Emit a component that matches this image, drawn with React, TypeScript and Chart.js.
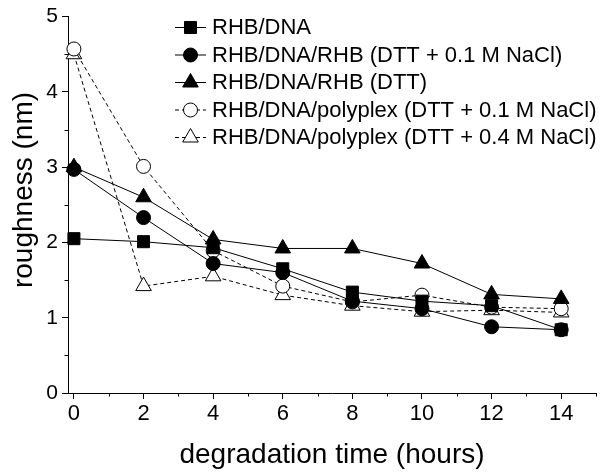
import React, { useEffect, useRef } from 'react';
import { Chart, registerables } from 'chart.js';
import { drawPoint } from 'chart.js/helpers';

Chart.register(...registerables);

// ---- data ----
const hours = [0, 2, 4, 6, 8, 10, 12, 14];
const rhbDna = [2.05, 2.01, 1.93, 1.65, 1.34, 1.22, 1.16, 0.84];
const rhbDnaRhbDttNaCl = [2.97, 2.33, 1.72, 1.6, 1.22, 1.12, 0.88, 0.84];
const rhbDnaRhbDtt = [3.0, 2.6, 2.04, 1.92, 1.92, 1.72, 1.31, 1.25];
const polyplexDtt01 = [4.57, 3.01, 1.89, 1.42, 1.21, 1.3, 1.14, 1.12];
const polyplexDtt04 = [4.5, 1.42, 1.55, 1.3, 1.16, 1.08, 1.1, 1.07];

const seriesLabels = [
  'RHB/DNA',
  'RHB/DNA/RHB (DTT + 0.1 M NaCl)',
  'RHB/DNA/RHB (DTT)',
  'RHB/DNA/polyplex (DTT + 0.1 M NaCl)',
  'RHB/DNA/polyplex (DTT + 0.4 M NaCl)',
];

const xMajorTicks = [0, 2, 4, 6, 8, 10, 12, 14];
const xMinorTicks = [1, 3, 5, 7, 9, 11, 13, 15];
const yMajorTicks = [0, 1, 2, 3, 4, 5];
const yMinorTicks = [0.5, 1.5, 2.5, 3.5, 4.5];

const xTitle = 'degradation time (hours)';
const yTitle = 'roughness (nm)';

const FONT = "'Liberation Sans', Arial, Helvetica, sans-serif";

const toPoints = (vals: number[]) => hours.map((h, i) => ({ x: h, y: vals[i] }));

const minorTickPlugin = {
  id: 'minorTicks',
  afterDraw(chart: any) {
    const ctx = chart.ctx;
    const xs = chart.scales.x;
    const ys = chart.scales.y;
    const area = chart.chartArea;
    ctx.save();
    ctx.strokeStyle = '#000';
    ctx.lineWidth = 1;
    ctx.beginPath();
    xMinorTicks.forEach((v) => {
      const px = Math.round(xs.getPixelForValue(v)) + 0.5;
      ctx.moveTo(px, area.bottom);
      ctx.lineTo(px, area.bottom + 3.5);
    });
    yMinorTicks.forEach((v) => {
      const py = Math.round(ys.getPixelForValue(v)) + 0.5;
      ctx.moveTo(area.left, py);
      ctx.lineTo(area.left - 3.5, py);
    });
    ctx.stroke();
    // y-axis title
    ctx.fillStyle = '#000';
    ctx.font = `28px ${FONT}`;
    ctx.textAlign = 'center';
    ctx.textBaseline = 'middle';
    ctx.translate(24, 190);
    ctx.rotate(-Math.PI / 2);
    ctx.fillText(yTitle, 0, 0);
    ctx.restore();
  },
};

const legendPlugin = {
  id: 'innerLegend',
  afterDraw(chart: any) {
    const ctx = chart.ctx;
    ctx.save();
    chart.data.datasets.forEach((ds: any, i: number) => {
      const y = 27 + i * 27.5;
      ctx.strokeStyle = '#000';
      ctx.lineWidth = 1;
      ctx.setLineDash(ds.borderDash || []);
      ctx.beginPath();
      ctx.moveTo(175, y + 0.5);
      ctx.lineTo(206, y + 0.5);
      ctx.stroke();
      ctx.setLineDash([]);
      ctx.fillStyle = ds.pointBackgroundColor;
      ctx.strokeStyle = '#000';
      drawPoint(ctx, { pointStyle: ds.pointStyle, radius: ds.pointRadius, borderWidth: 1, rotation: 0 } as any, 190.5, y + 0.5);
      ctx.fillStyle = '#000';
      ctx.font = `22px ${FONT}`;
      ctx.textBaseline = 'middle';
      ctx.textAlign = 'left';
      ctx.fillText(ds.label, 212, y + 1);
    });
    ctx.restore();
  },
};

export default function App() {
  const ref = useRef<HTMLCanvasElement | null>(null);

  useEffect(() => {
    document.body.style.margin = '0';
    const canvas = ref.current;
    if (!canvas) return;

    const mk = (label: string, vals: number[], style: string, radius: number, filled: boolean, dashed: boolean) => ({
      label,
      data: toPoints(vals),
      borderColor: '#000',
      borderWidth: 1,
      borderDash: dashed ? [4, 3] : [],
      pointStyle: style,
      pointRadius: radius,
      pointHoverRadius: radius,
      pointBorderWidth: 1,
      pointBorderColor: '#000',
      pointBackgroundColor: filled ? '#000' : '#fff',
      backgroundColor: filled ? '#000' : '#fff',
      tension: 0,
      fill: false,
      clip: false as any,
    });

    const chart = new Chart(canvas, {
      type: 'line',
      data: {
        datasets: [
          mk(seriesLabels[0], rhbDna, 'rect', 8.5, true, false),
          mk(seriesLabels[1], rhbDnaRhbDttNaCl, 'circle', 7, true, false),
          mk(seriesLabels[2], rhbDnaRhbDtt, 'triangle', 9, true, false),
          mk(seriesLabels[3], polyplexDtt01, 'circle', 7, false, true),
          mk(seriesLabels[4], polyplexDtt04, 'triangle', 9, false, true),
        ] as any,
      },
      options: {
        animation: false,
        responsive: false,
        devicePixelRatio: 1,
        layout: { padding: { top: 13, right: 5, left: 0, bottom: 0 }, autoPadding: false } as any,
        plugins: {
          legend: { display: false },
          tooltip: { enabled: false },
        },
        scales: {
          x: {
            type: 'linear',
            min: -0.17,
            max: 15,
            afterBuildTicks: (scale: any) => {
              scale.ticks = xMajorTicks.map((v) => ({ value: v }));
            },
            afterFit: (scale: any) => {
              scale.height = 80;
            },
            grid: { display: true, drawOnChartArea: false, drawTicks: true, tickLength: 6, color: '#000', lineWidth: 1 },
            border: { display: true, color: '#000', width: 1 },
            ticks: {
              color: '#000',
              font: { family: FONT, size: 22 },
              padding: 2,
              maxRotation: 0,
              autoSkip: false,
              callback: (v: any) => String(v),
            },
            title: {
              display: true,
              text: xTitle,
              color: '#000',
              font: { family: FONT, size: 28 },
              padding: { top: 0, bottom: 1 },
            },
          },
          y: {
            type: 'linear',
            min: 0,
            max: 5,
            afterBuildTicks: (scale: any) => {
              scale.ticks = yMajorTicks.map((v) => ({ value: v }));
            },
            afterFit: (scale: any) => {
              scale.width = 68;
            },
            grid: { display: true, drawOnChartArea: false, drawTicks: true, tickLength: 6, color: '#000', lineWidth: 1 },
            border: { display: true, color: '#000', width: 1 },
            ticks: {
              color: '#000',
              font: { family: FONT, size: 21 },
              padding: 4,
              autoSkip: false,
              callback: (v: any) => String(v),
            },
            title: { display: false },
          },
        },
      } as any,
      plugins: [minorTickPlugin, legendPlugin],
    });

    return () => chart.destroy();
  }, []);

  return (
    <div style={{ position: 'absolute', left: 0, top: 0, width: 601, height: 473, background: '#fff' }}>
      <canvas ref={ref} width={601} height={473} style={{ display: 'block', width: 601, height: 473 }} />
    </div>
  );
}
